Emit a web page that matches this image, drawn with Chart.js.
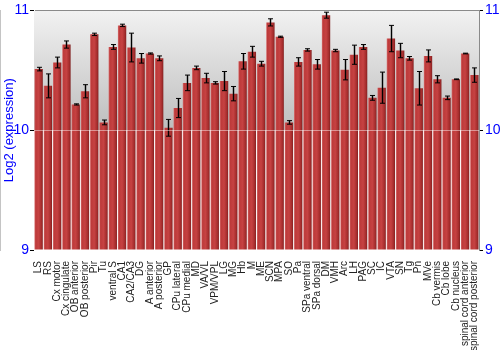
<!DOCTYPE html>
<html>
<head>
<meta charset="utf-8">
<script src="https://cdn.jsdelivr.net/npm/chart.js@4"></script>
<style>
  body { margin: 0; background: #fff; }
</style>
</head>
<body>
<canvas id="chart" width="500" height="350"></canvas>
<script>
// regions, in the order they are plotted
var regions = ["LS", "RS", "Cx motor", "Cx cingulate", "OB anterior", "OB posterior", "Pir", "Tu",
  "ventral S", "CA1", "CA2/CA3", "DG", "A anterior", "A posterior", "GP", "CPu lateral", "CPu medial",
  "MD", "VA/VL", "VPM/VPL", "LG", "MG", "Hb", "M", "ME", "SCN", "MPA", "SO", "Pa", "SPa ventral",
  "SPa dorsal", "DM", "VMH", "Arc", "LH", "PAG", "SC", "IC", "VTA", "SN", "Tg", "Pn", "MVe",
  "Cb vermis", "Cb lobe", "Cb nucleus", "spinal cord anterior", "spinal cord posterior"];

// mean log2 expression
var expression = [10.51, 10.37, 10.565, 10.715, 10.215, 10.325, 10.80, 10.065, 10.695, 10.875,
  10.69, 10.60, 10.64, 10.60, 10.02, 10.185, 10.395, 10.52, 10.435, 10.395, 10.41, 10.305, 10.575,
  10.655, 10.555, 10.90, 10.78, 10.065, 10.57, 10.67, 10.55, 10.96, 10.665, 10.505, 10.63, 10.695,
  10.27, 10.355, 10.765, 10.665, 10.60, 10.35, 10.62, 10.425, 10.27, 10.425, 10.64, 10.46];

// error bar half height
var errors = [0.015, 0.10, 0.045, 0.03, 0.005, 0.055, 0.01, 0.02, 0.02, 0.01, 0.12, 0.04, 0.005,
  0.02, 0.07, 0.08, 0.065, 0.015, 0.04, 0.01, 0.08, 0.06, 0.065, 0.045, 0.02, 0.03, 0.005, 0.015,
  0.035, 0.01, 0.04, 0.025, 0.01, 0.085, 0.08, 0.02, 0.02, 0.13, 0.11, 0.06, 0.015, 0.14, 0.05,
  0.03, 0.015, 0.003, 0.003, 0.06];

var yTicks = [9, 10, 11];

var BLUE = '#0000ff';

// gray gradient behind the bars, upper half only
var plotBackground = {
  id: 'plotBackground',
  beforeDraw: function (chart) {
    var ctx = chart.ctx, a = chart.chartArea;
    var mid = chart.scales.y.getPixelForValue(10);
    var g = ctx.createLinearGradient(0, a.top, 0, mid);
    g.addColorStop(0, '#f2f2f2');
    g.addColorStop(1, '#bdbdbd');
    ctx.save();
    ctx.fillStyle = '#ffffff';
    ctx.fillRect(a.left, a.top, a.right - a.left, a.bottom - a.top);
    ctx.fillStyle = g;
    ctx.fillRect(a.left, a.top, a.right - a.left, mid - a.top);
    ctx.restore();
  }
};

// black error bars on top of each bar
var errorBars = {
  id: 'errorBars',
  afterDatasetsDraw: function (chart) {
    var ctx = chart.ctx;
    var y = chart.scales.y;
    var bars = chart.getDatasetMeta(0).data;
    ctx.save();
    bars.forEach(function (bar, i) {
      var x = Math.round(bar.x) + 0.5;
      var top = y.getPixelForValue(expression[i] + errors[i]);
      var bot = y.getPixelForValue(expression[i] - errors[i]);
      // soft gray halo
      ctx.strokeStyle = 'rgba(0,0,0,0.22)';
      ctx.lineWidth = 3;
      ctx.beginPath();
      ctx.moveTo(x, top); ctx.lineTo(x, bot);
      ctx.stroke();
      ctx.strokeStyle = '#000';
      ctx.lineWidth = 1;
      ctx.beginPath();
      ctx.moveTo(x, top); ctx.lineTo(x, bot);
      ctx.moveTo(x - 2.5, top); ctx.lineTo(x + 2.5, top);
      ctx.moveTo(x - 2.5, bot); ctx.lineTo(x + 2.5, bot);
      ctx.stroke();
    });
    ctx.restore();
  }
};

function barFill(context) {
  var chart = context.chart;
  var xs = chart.scales.x;
  if (!xs || !chart.chartArea) return '#b83434';
  var cx = xs.getPixelForValue(context.dataIndex);
  var w = (xs.width / regions.length) * 0.9;
  var g = chart.ctx.createLinearGradient(cx - w / 2, 0, cx + w / 2, 0);
  g.addColorStop(0, '#d87070');
  g.addColorStop(0.15, '#bd3a3a');
  g.addColorStop(0.5, '#c64242');
  g.addColorStop(0.85, '#a42c2c');
  g.addColorStop(1, '#7e2020');
  return g;
}

var ctx = document.getElementById('chart').getContext('2d');
var chart = new Chart(ctx, {
  type: 'bar',
  data: {
    labels: regions,
    datasets: [{
      label: 'expression',
      data: expression,
      base: 9,
      backgroundColor: barFill,
      borderWidth: 0,
      barPercentage: 0.9,
      categoryPercentage: 1.0
    }]
  },
  options: {
    responsive: false,
    animation: false,
    layout: { padding: { top: 9, left: 0, right: 0, bottom: 0 } },
    plugins: {
      legend: { display: false },
      tooltip: { enabled: false }
    },
    scales: {
      x: {
        grid: { display: false },
        border: { display: false },
        ticks: {
          minRotation: 90,
          maxRotation: 90,
          autoSkip: false,
          padding: 3,
          color: '#222',
          font: { family: 'Liberation Sans, Arial, sans-serif', size: 10 }
        },
        afterFit: function (scale) { scale.height = 100; }
      },
      y: {
        position: 'left',
        min: 9,
        max: 11,
        afterBuildTicks: function (scale) {
          scale.ticks = yTicks.map(function (v) { return { value: v }; });
        },
        grid: {
          z: 1,
          tickLength: 4,
          tickColor: '#000',
          color: function (c) {
            if (c.tick && c.tick.value === 10) return 'rgba(255,255,255,0.45)';
            if (c.tick && c.tick.value === 11) return '#8a8a8a';
            return 'rgba(0,0,0,0)';
          }
        },
        border: { color: '#8a8a8a' },
        ticks: {
          padding: 1,
          color: BLUE,
          font: { family: 'Liberation Sans, Arial, sans-serif', size: 14 }
        },
        title: {
          display: true,
          text: 'Log2 (expression)',
          color: BLUE,
          padding: { top: 2, bottom: 0 },
          font: { family: 'Liberation Sans, Arial, sans-serif', size: 13 }
        },
        afterFit: function (scale) { scale.width = 34; }
      },
      y2: {
        position: 'right',
        min: 9,
        max: 11,
        afterBuildTicks: function (scale) {
          scale.ticks = yTicks.map(function (v) { return { value: v }; });
        },
        grid: {
          drawOnChartArea: false,
          tickLength: 4,
          tickColor: '#000'
        },
        border: { color: '#8a8a8a' },
        ticks: {
          padding: 2,
          color: BLUE,
          font: { family: 'Liberation Sans, Arial, sans-serif', size: 14 }
        },
        afterFit: function (scale) { scale.width = 21; }
      }
    }
  },
  plugins: [plotBackground, errorBars]
});
</script>
</body>
</html>
